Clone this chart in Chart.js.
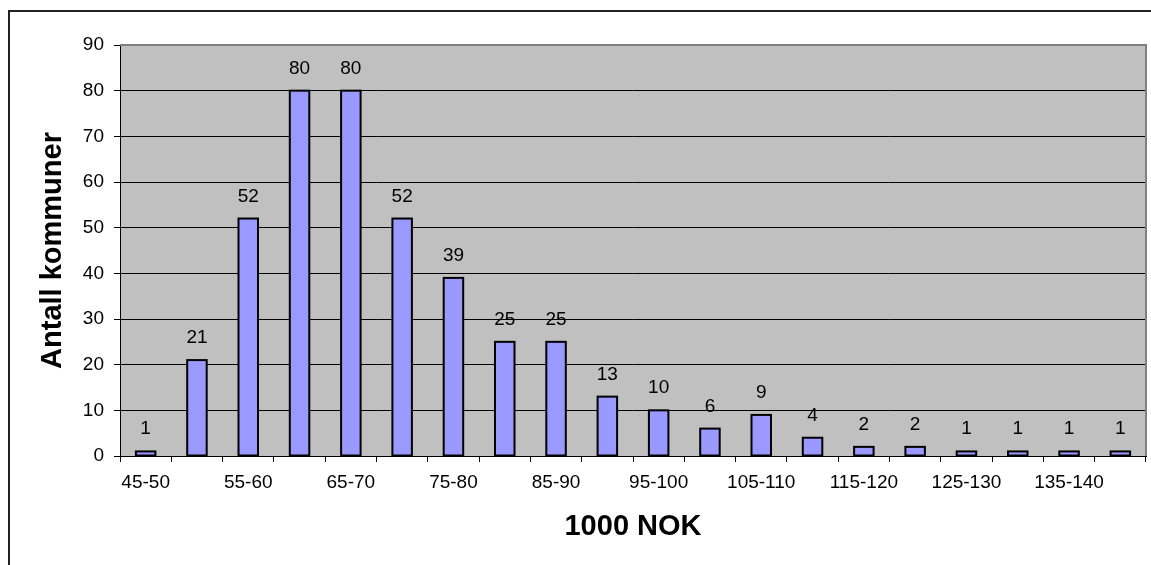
<!DOCTYPE html>
<html>
<head>
<meta charset="utf-8">
<script src="https://cdn.jsdelivr.net/npm/chart.js@4/dist/chart.umd.min.js"></script>
<style>
  html, body { margin: 0; padding: 0; background: #fff; }
  #wrap { width: 1151px; height: 565px; position: relative; }
</style>
</head>
<body>
<div id="wrap"><canvas id="c"></canvas></div>
<script>
// income groups (1000 NOK) and number of municipalities in each
const categories = ['45-50', '50-55', '55-60', '60-65', '65-70', '70-75', '75-80', '80-85', '85-90', '90-95',
  '95-100', '100-105', '105-110', '110-115', '115-120', '120-125', '125-130', '130-135', '135-140', '140-145'];
const counts = [1, 21, 52, 80, 80, 52, 39, 25, 25, 13, 10, 6, 9, 4, 2, 2, 1, 1, 1, 1];
// only every other category gets a label on the axis
const shownTicks = ['45-50', '55-60', '65-70', '75-80', '85-90', '95-100', '105-110', '115-120', '125-130', '135-140'];

const FONT = 'Liberation Sans, Arial, sans-serif';

// grey plot area + outer frame
const frame = {
  id: 'frame',
  beforeDraw(chart) {
    const {ctx, chartArea: a} = chart;
    ctx.save();
    ctx.fillStyle = '#C0C0C0';
    ctx.fillRect(a.left, a.top, a.right - a.left, a.bottom - a.top);
    ctx.strokeStyle = '#222';
    ctx.lineWidth = 2;
    ctx.beginPath();
    ctx.moveTo(9, 570);
    ctx.lineTo(9, 11);
    ctx.lineTo(1160, 11);
    ctx.stroke();
    ctx.restore();
  },
  afterDraw(chart) {
    const {ctx, chartArea: a} = chart;
    ctx.save();
    ctx.strokeStyle = '#808080';
    ctx.lineWidth = 2;
    ctx.beginPath();
    ctx.moveTo(a.left, a.top);
    ctx.lineTo(a.right, a.top);
    ctx.lineTo(a.right, a.bottom);
    ctx.stroke();
    ctx.restore();
  }
};

// excel style outline (centred on the bar edge) + value labels above the bars
const barLabels = {
  id: 'barLabels',
  afterDatasetsDraw(chart) {
    const {ctx} = chart;
    const meta = chart.getDatasetMeta(0);
    ctx.save();
    ctx.strokeStyle = '#000';
    ctx.lineWidth = 2;
    meta.data.forEach(bar => {
      ctx.strokeRect(bar.x - bar.width / 2, bar.y, bar.width, bar.base - bar.y);
    });
    ctx.font = '19px ' + FONT;
    ctx.fillStyle = '#000';
    ctx.textAlign = 'center';
    ctx.textBaseline = 'alphabetic';
    meta.data.forEach((bar, i) => {
      ctx.fillText(String(counts[i]), bar.x, bar.y - 17);
    });
    ctx.restore();
  }
};

new Chart(document.getElementById('c'), {
  type: 'bar',
  data: {
    labels: categories,
    datasets: [{
      data: counts,
      backgroundColor: '#9999FF',
      borderWidth: 0,
      barPercentage: 0.38,
      categoryPercentage: 1
    }]
  },
  options: {
    responsive: true,
    maintainAspectRatio: false,
    animation: false,
    layout: { padding: { top: 45, right: 5, left: 0, bottom: 0 } },
    plugins: { legend: { display: false }, tooltip: { enabled: false } },
    scales: {
      x: {
        afterFit(s) { s.height = 109; },
        grid: { display: true, drawOnChartArea: false, drawTicks: true, tickLength: 6, color: '#000', offset: true },
        border: { display: true, color: '#000', width: 1 },
        ticks: {
          autoSkip: false, maxRotation: 0, minRotation: 0, padding: 9, color: '#000',
          font: { family: FONT, size: 19 },
          callback: (v, i) => shownTicks.includes(categories[i]) ? categories[i] : ''
        },
        title: {
          display: true, text: '1000 NOK', color: '#000',
          font: { family: FONT, size: 29, weight: 'bold' },
          padding: { top: 0, bottom: 21 }
        }
      },
      y: {
        min: 0, max: 90,
        afterFit(s) { s.width = 120; },
        grid: {
          color: c => c.tick && c.tick.value === 90 ? '#808080' : '#000',
          tickColor: '#000', tickLength: 6, lineWidth: 1
        },
        border: { display: true, color: '#000', width: 1 },
        ticks: {
          stepSize: 10, padding: 10, color: '#000',
          font: { family: FONT, size: 19 }
        },
        title: {
          display: true, text: 'Antall kommuner', color: '#000',
          font: { family: FONT, size: 29, weight: 'bold' },
          padding: { top: 36, bottom: 0 }
        }
      }
    }
  },
  plugins: [frame, barLabels]
});
</script>
</body>
</html>
